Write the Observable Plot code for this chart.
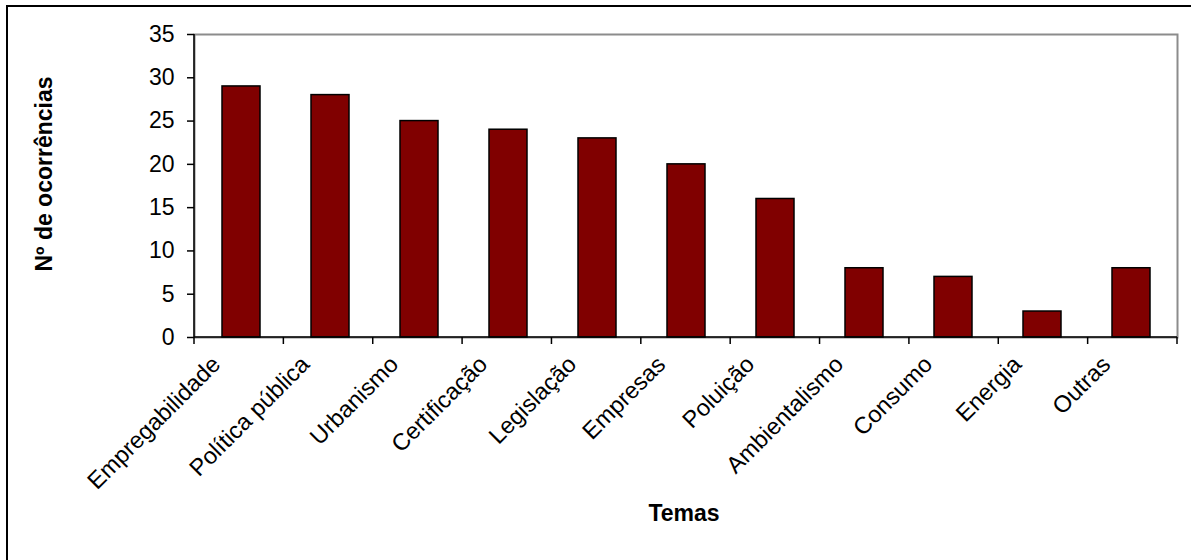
<!DOCTYPE html>
<html><head><meta charset="utf-8">
<script src="https://cdn.jsdelivr.net/npm/d3@7"></script>
<script src="https://cdn.jsdelivr.net/npm/@observablehq/plot@0.6"></script>
<style>
html,body{margin:0;padding:0;background:#fff;overflow:hidden;width:1191px;height:560px}
#chart{position:absolute;left:0;top:0}
#border{position:absolute;left:6px;top:5px;width:3000px;height:3000px;border-left:2px solid #000;border-top:2px solid #000;pointer-events:none}
</style></head><body>
<div id="chart"></div><div id="border"></div>
<script>
const temas = ["Empregabilidade","Política pública","Urbanismo","Certificação","Legislação","Empresas","Poluição","Ambientalismo","Consumo","Energia","Outras"];
const ocorrencias = [29,28,25,24,23,20,16,8,7,3,8];
const yTicks = [0,5,10,15,20,25,30,35];
const yLabel = "Nº de ocorrências";
const xLabel = "Temas";
const data = temas.map((t,i)=>({tema:t, n:ocorrencias[i]}));

function axisLines(index, scales, values, dims) {
  const g = d3.create("svg:g");
  const n = temas.length;
  const x0 = dims.marginLeft, x1 = dims.width - dims.marginRight;
  const step = (x1 - x0) / n;
  const yb = dims.height - dims.marginBottom, yt = dims.marginTop;
  const bounds = d3.range(n + 1).map(i => x0 + i * step);
  g.selectAll("line.t").data(bounds).join("line")
    .attr("x1", d => d).attr("x2", d => d).attr("y1", yb).attr("y2", yb + 7)
    .attr("stroke", "#000").attr("stroke-width", 1.5);
  g.append("line").attr("x1", x0).attr("x2", x0).attr("y1", yt).attr("y2", yb)
    .attr("stroke", "#000").attr("stroke-width", 1.5);
  g.append("line").attr("x1", x0).attr("x2", x1).attr("y1", yb).attr("y2", yb)
    .attr("stroke", "#000").attr("stroke-width", 1.5);
  return g.node();
}

const chart = Plot.plot({
  width: 1191, height: 560,
  marginLeft: 194, marginRight: 14, marginTop: 34, marginBottom: 223,
  style: {fontFamily: "Arial, 'Liberation Sans', sans-serif", fontSize: "23px", color: "#000", background: "transparent", overflow: "visible"},
  x: {domain: temas, paddingInner: 0.575, paddingOuter: 0.2875, label: null},
  y: {domain: [0, 35], ticks: yTicks, label: null},
  marks: [
    Plot.frame({stroke: "#8c8c8c", strokeWidth: 2}),
    Plot.barY(data, {x: "tema", y: "n", fill: "#800000", stroke: "#000", strokeWidth: 1.5}),
    axisLines,
    Plot.axisY({ticks: yTicks, tickSize: 7, tickPadding: 13, fontSize: 23, label: null, stroke: "#000", strokeWidth: 1.5}),
    Plot.axisX({tickSize: 0, tickRotate: -45, tickPadding: 23, dx: -25, fontSize: 23.5, label: null}),
    Plot.text([yLabel], {text: d => d, frameAnchor: "left", textAnchor: "middle", lineAnchor: "middle", dx: -150, dy: -12, rotate: -90, fontWeight: "bold", fontSize: 23}),
    Plot.text([xLabel], {text: d => d, frameAnchor: "bottom", textAnchor: "middle", lineAnchor: "middle", dx: -2, dy: 176, fontWeight: "bold", fontSize: 23})
  ]
});
document.getElementById("chart").appendChild(chart);
</script>
</body></html>
